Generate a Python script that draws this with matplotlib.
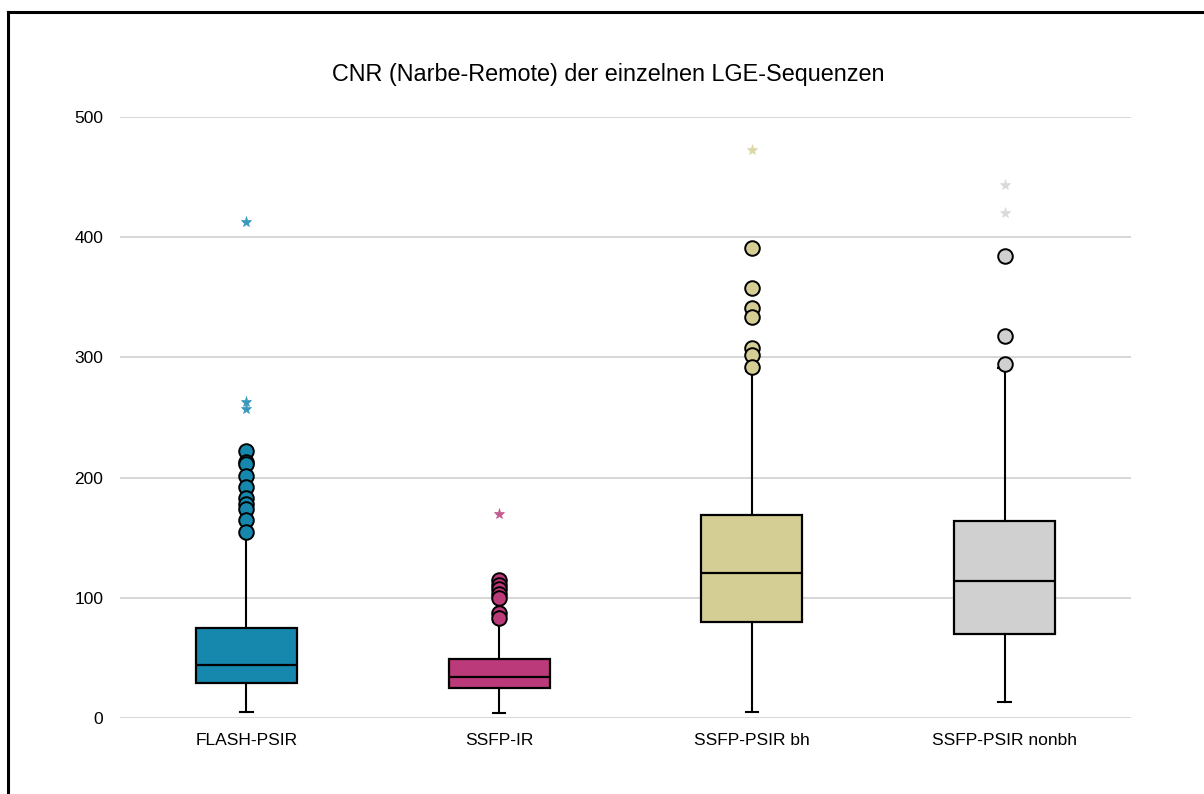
import matplotlib.pyplot as plt
from matplotlib.lines import Line2D

###############################################################################
categories = ['FLASH-PSIR', 'SSFP-IR', 'SSFP-PSIR bh', 'SSFP-PSIR nonbh']
q1 = [29, 25, 80, 70]
median = [44, 34.5, 120.5, 114]
q3 = [75, 49, 169, 164]
whisker_low = [5, 4.5, 5, 13.5]
whisker_high = [152, 80, 289, 291]

outliers = [
    [222, 213, 211, 201, 192, 183, 178, 174, 165, 155],
    [115, 111, 107, 103, 100, 87.5, 83.5],
    [391, 357.5, 341, 334, 307.5, 302, 292],
    [384, 318, 294.5],
]
extremes = [
    [412.5, 263, 257],
    [169.5],
    [472.5],
    [443.5, 420.5],
]

box_colors = ['#1688ad', '#bb3a7a', '#d4ce94', '#d0d0d0']
star_colors = ['#3a98bd', '#c45a90', '#dcd7a6', '#dadada']
yticks = [0, 100, 200, 300, 400, 500]
###############################################################################

fig = plt.figure(figsize=(12.04, 7.94), dpi=100)
plt.rcParams['font.family'] = ['Liberation Sans', 'DejaVu Sans']

ax = fig.add_axes([120 / 1204, 1 - 718 / 794, (1131 - 120) / 1204, (718 - 117) / 794])

stats = []
for i, name in enumerate(categories):
    stats.append({'label': name, 'q1': q1[i], 'med': median[i], 'q3': q3[i],
                  'whislo': whisker_low[i], 'whishi': whisker_high[i],
                  'fliers': []})

positions = list(range(len(categories)))
bp = ax.bxp(stats, positions=positions, widths=0.4, patch_artist=True,
            showfliers=False, capwidths=0.05,
            boxprops=dict(linewidth=1.6, edgecolor='black'),
            medianprops=dict(color='black', linewidth=1.6),
            whiskerprops=dict(color='black', linewidth=1.5),
            capprops=dict(color='black', linewidth=1.5))
for patch, c in zip(bp['boxes'], box_colors):
    patch.set_facecolor(c)

for i in positions:
    ax.plot([i] * len(outliers[i]), outliers[i], linestyle='none', marker='o',
            markersize=10.5, markerfacecolor=box_colors[i], markeredgecolor='black',
            markeredgewidth=1.4, zorder=4)
    ax.plot([i] * len(extremes[i]), extremes[i], linestyle='none', marker='*',
            markersize=8, markerfacecolor=star_colors[i], markeredgecolor=star_colors[i],
            markeredgewidth=0.5, zorder=4)

ax.set_xlim(-0.5, 3.5)
ax.set_ylim(0, 500)
ax.set_yticks(yticks)
ax.set_xticks(positions)
ax.set_xticklabels(categories)
ax.yaxis.grid(True, color='#d6d6d6', linewidth=1.4)
ax.set_axisbelow(True)
for s in ax.spines.values():
    s.set_visible(False)
ax.tick_params(axis='both', length=0, labelsize=12.5)
ax.tick_params(axis='y', pad=12)
ax.tick_params(axis='x', pad=11)

fig.text(0.505, 1 - 75 / 794, 'CNR (Narbe-Remote) der einzelnen LGE-Sequenzen',
         ha='center', va='center', fontsize=16.8)

# frame around the figure (left and top only, rest is cut off)
fig.add_artist(Line2D([8 / 1204, 8 / 1204], [0, 1 - 11.5 / 794], color='black',
                      linewidth=2.2, transform=fig.transFigure))
fig.add_artist(Line2D([8 / 1204, 1], [1 - 11.5 / 794, 1 - 11.5 / 794], color='black',
                      linewidth=2.2, transform=fig.transFigure))

fig.savefig('out.png', dpi=100)
plt.close()
